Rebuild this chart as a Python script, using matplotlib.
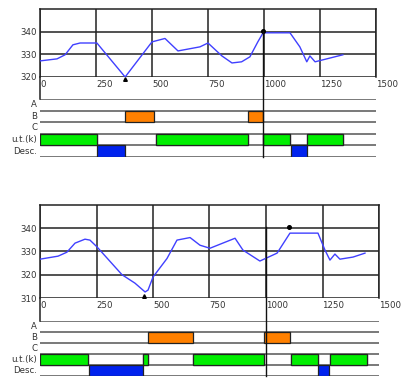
"""Two stacked trace panels with a timing diagram under each."""

import matplotlib

matplotlib.use("Agg")
import matplotlib.pyplot as plt
from matplotlib.patches import Rectangle
from matplotlib.transforms import blended_transform_factory

W, H = 403, 383

x_ticks = [0, 250, 500, 750, 1000, 1250, 1500]
row_labels = ["A", "B", "C", "u.t.(k)", "Desc."]

# top panel
top_x = [0, 76, 112, 147, 179, 254, 380, 500, 558, 616, 714, 750, 812, 857,
         900, 937, 973, 996, 1116, 1160, 1191, 1205, 1228, 1280, 1352]
top_y = [327.1, 328, 329.8, 334.2, 335, 335, 320, 335.5, 337, 331.5, 333.3,
         335, 329.3, 326.2, 326.7, 328.9, 335.6, 339.5, 339.5, 333.3, 326.7,
         329.3, 326.7, 328, 329.8]
top_yticks = [320, 330, 340]
top_cursor = (996, 340.2)
top_min = (380, 319.3)
top_b = [(379, 509), (929, 996)]
top_ut = [(0, 254), (518, 929), (996, 1116), (1192, 1353)]
top_desc = [(254, 379), (1120, 1192)]

# bottom panel
bot_x = [0, 80, 119, 155, 199, 221, 252, 363, 420, 465, 478, 500, 562, 606,
         664, 708, 752, 863, 898, 973, 1049, 1106, 1230, 1261, 1283, 1305,
         1327, 1385, 1438]
bot_y = [326.7, 328, 329.7, 333.6, 335.3, 334.9, 332, 320, 316.4, 312.6,
         313.4, 319, 327, 334.9, 336, 332.7, 331.4, 335.7, 330.6, 325.9,
         329.3, 337.9, 337.9, 330.6, 326.3, 328.9, 326.7, 327.6, 329.3]
bot_yticks = [310, 320, 330, 340]
bot_cursor = (1000, 340.5)
bot_dot = (1100, 340.5)
bot_min = (460, 311.0)
bot_b = [(478, 677), (991, 1106)]
bot_ut = [(0, 212), (456, 478), (677, 991), (1110, 1230), (1283, 1447)]
bot_desc = [(217, 456), (1230, 1279)]

FS = 6.2
TXT = "#333333"


def box(px_left, px_top, px_right, px_bottom):
    return [px_left / W, 1 - px_bottom / H, (px_right - px_left) / W,
            (px_bottom - px_top) / H]


def draw_trace(fig, rect, xs, ys, yticks, ylim):
    ax = fig.add_axes(rect)
    ax.plot(xs, ys, color="#4040ff", lw=1.0, zorder=3)
    ax.set_xlim(0, 1500)
    ax.set_ylim(*ylim)
    ax.set_xticks(x_ticks)
    ax.set_xticklabels([str(t) for t in x_ticks], ha="left", fontsize=FS,
                       color=TXT)
    ax.set_yticks(yticks)
    ax.set_yticklabels([str(t) for t in yticks], fontsize=FS, color=TXT)
    ax.tick_params(length=0, pad=2)
    ax.grid(True, color="#222222", lw=1.1)
    for side in ax.spines.values():
        side.set_color("#222222")
        side.set_linewidth(1.1)
    ax.spines["bottom"].set_visible(False)
    ax.set_axisbelow(True)
    return ax


def draw_timing(fig, rect, b_bars, ut_bars, desc_bars):
    ax = fig.add_axes(rect)
    ax.set_xlim(0, 1500)
    ax.set_ylim(0, 5)
    ax.axis("off")
    for yy in range(6):
        ax.axhline(yy, color="#555555", lw=1.1, zorder=1)
    for i, name in enumerate(row_labels):
        ax.text(-12, 4.5 - i, name, ha="right", va="center", fontsize=FS,
                color=TXT, clip_on=False)
    # white gaps between the u.t. boxes
    ut_end = ut_bars[-1][1]
    edges = [0] + [v for seg in ut_bars for v in seg] + [ut_end]
    for a, b in zip(edges[1::2], edges[2::2]):
        if b > a:
            ax.add_patch(Rectangle((a, 1), b - a, 1, facecolor="white",
                                   edgecolor="#555555", lw=0.9, zorder=2))
    for a, b in b_bars:
        ax.add_patch(Rectangle((a, 3), b - a, 1, facecolor="#ff8000",
                               edgecolor="#222222", lw=0.9, zorder=3))
    for a, b in ut_bars:
        ax.add_patch(Rectangle((a, 1), b - a, 1, facecolor="#00ee00",
                               edgecolor="#222222", lw=0.9, zorder=3))
    for a, b in desc_bars:
        ax.add_patch(Rectangle((a, 0), b - a, 1, facecolor="#0022ee",
                               edgecolor="#222222", lw=0.9, zorder=3))
    return ax


def draw_panel(fig, trace_px, timing_px, xs, ys, yticks, ylim, bars,
               cursor, markers):
    ax = draw_trace(fig, box(*trace_px), xs, ys, yticks, ylim)
    tax = draw_timing(fig, box(*timing_px), *bars)
    # left axis runs down to the timing rows
    fig.lines.append(plt.Line2D([trace_px[0] / W] * 2,
                                [1 - trace_px[3] / H, 1 - timing_px[1] / H],
                                transform=fig.transFigure, color="#222222",
                                lw=1.1))
    # cursor from the marker down through the timing rows
    trans = blended_transform_factory(ax.transData, fig.transFigure)
    y_top = fig.transFigure.inverted().transform(
        ax.transData.transform(cursor))[1]
    fig.lines.append(plt.Line2D([cursor[0]] * 2, [y_top, 1 - timing_px[3] / H],
                                transform=trans, color="#111111", lw=1.0,
                                zorder=5))
    for (mx, my), mk in markers:
        ax.plot([mx], [my], marker=mk, color="black", markersize=2.6,
                clip_on=False, zorder=6)
    return ax, tax


fig = plt.figure(figsize=(W / 100, H / 100), dpi=100)

draw_panel(fig, (40, 9, 376, 77), (40, 99, 376, 157), top_x, top_y,
           top_yticks, (320, 350), (top_b, top_ut, top_desc), top_cursor,
           [(top_cursor, "o"), (top_min, "^")])
draw_panel(fig, (40, 205, 379, 298), (40, 321, 379, 376), bot_x, bot_y,
           bot_yticks, (310, 350), (bot_b, bot_ut, bot_desc), bot_cursor,
           [(bot_dot, "o"), (bot_min, "^")])

fig.savefig("out.png", dpi=100)
